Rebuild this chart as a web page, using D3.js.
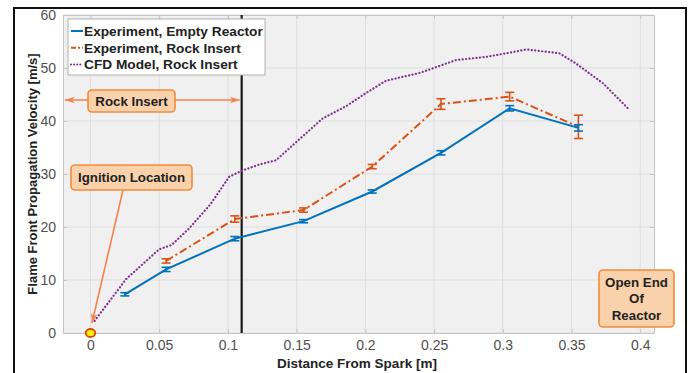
<!DOCTYPE html>
<html>
<head>
<meta charset="utf-8">
<script src="https://cdn.jsdelivr.net/npm/d3@7"></script>
<style>
  body { margin: 0; background: #fff; }
  text { font-family: "Liberation Sans", Arial, sans-serif; }
</style>
</head>
<body>
<svg id="chart" width="691" height="373"></svg>
<script>
// Data
var posX = [0.025, 0.055, 0.105, 0.155, 0.205, 0.255, 0.305, 0.355];

var emptyVel = [7.3, 12.0, 17.8, 21.1, 26.7, 34.0, 42.4, 38.7];
var emptyErr = [0.3, 0.4, 0.4, 0.3, 0.3, 0.4, 0.5, 0.6];

var rockX = [0.055, 0.105, 0.155, 0.205, 0.255, 0.305, 0.355];
var rockVel = [13.6, 21.5, 23.2, 31.4, 43.2, 44.6, 38.9];
var rockErr = [0.4, 0.6, 0.4, 0.4, 1.0, 0.8, 2.2];

var cfdX = [0.003, 0.026, 0.05, 0.059, 0.072, 0.087, 0.101, 0.11, 0.123, 0.135, 0.15, 0.169,
            0.186, 0.2, 0.215, 0.24, 0.266, 0.288, 0.305, 0.317, 0.341, 0.353, 0.373, 0.391];
var cfdVel = [2.3, 10.2, 15.8, 16.6, 19.8, 24.2, 29.5, 30.6, 31.8, 32.6, 36.1, 40.5,
              42.8, 45.2, 47.6, 49.1, 51.5, 52.1, 52.9, 53.5, 52.8, 50.9, 47.1, 42.4];

var xTicks = [0, 0.05, 0.1, 0.15, 0.2, 0.25, 0.3, 0.35, 0.4];
var yTicks = [0, 10, 20, 30, 40, 50, 60];
var legendLabels = ["Experiment, Empty Reactor", "Experiment, Rock Insert", "CFD Model, Rock Insert"];
var rockInsertEnd = 0.11;

var blue = "#0072BD", orange = "#D95319", purple = "#7E2F8E";
var noteFill = "#f9d2ab", noteStroke = "#f28a3e", arrowColor = "#f4824c";

var svg = d3.select("#chart");

// outer frame
svg.append("path")
  .attr("d", "M14,373 L14,8 L686,8 L686,373")
  .attr("fill", "none").attr("stroke", "#111").attr("stroke-width", 2);

var plotL = 63, plotR = 654, plotT = 15, plotB = 333;
var x = d3.scaleLinear().domain([-0.02, 0.41]).range([plotL, plotR]);
var y = d3.scaleLinear().domain([0, 60]).range([plotB, plotT]);

// plot background
svg.append("rect")
  .attr("x", plotL).attr("y", plotT)
  .attr("width", plotR - plotL).attr("height", plotB - plotT)
  .attr("fill", "#f0f0f0");

// grid
svg.append("g").selectAll("line").data(xTicks).join("line")
  .attr("x1", d => x(d)).attr("x2", d => x(d))
  .attr("y1", plotT).attr("y2", plotB)
  .attr("stroke", "#dedede").attr("stroke-width", 1);
svg.append("g").selectAll("line").data(yTicks).join("line")
  .attr("x1", plotL).attr("x2", plotR)
  .attr("y1", d => y(d)).attr("y2", d => y(d))
  .attr("stroke", "#dedede").attr("stroke-width", 1);

// axes
function styleAxis(g) {
  g.select(".domain").attr("stroke", "#c4c4c4");
  g.selectAll(".tick line").attr("stroke", "#c4c4c4");
  g.selectAll(".tick text").attr("fill", "#505050").attr("font-size", 14);
}
svg.append("g").attr("transform", "translate(0," + plotB + ")")
  .call(d3.axisBottom(x).tickValues(xTicks).tickFormat(d3.format("~g")).tickSize(-4).tickSizeOuter(0).tickPadding(7))
  .call(styleAxis);
svg.append("g").attr("transform", "translate(" + plotL + ",0)")
  .call(d3.axisLeft(y).tickValues(yTicks).tickSize(-4).tickSizeOuter(0).tickPadding(7))
  .call(styleAxis);
svg.append("g").attr("transform", "translate(0," + plotT + ")")
  .call(d3.axisTop(x).tickValues(xTicks).tickFormat("").tickSize(-4).tickSizeOuter(0))
  .call(styleAxis);
svg.append("g").attr("transform", "translate(" + plotR + ",0)")
  .call(d3.axisRight(y).tickValues(yTicks).tickFormat("").tickSize(-4).tickSizeOuter(0))
  .call(styleAxis);

// axis labels
svg.append("text")
  .attr("x", 357).attr("y", 368)
  .attr("text-anchor", "middle")
  .attr("font-size", 13.5).attr("font-weight", "bold").attr("fill", "#222")
  .text("Distance From Spark [m]");
svg.append("text")
  .attr("transform", "translate(37," + ((plotT + plotB) / 2) + ") rotate(-90)")
  .attr("text-anchor", "middle")
  .attr("font-size", 13).attr("font-weight", "bold").attr("fill", "#222")
  .text("Flame Front Propagation Velocity [m/s]");

// rock insert boundary
svg.append("line")
  .attr("x1", x(rockInsertEnd)).attr("x2", x(rockInsertEnd))
  .attr("y1", plotT).attr("y2", plotB)
  .attr("stroke", "#1a1a1a").attr("stroke-width", 2.2);

// series
var line = d3.line().x(d => x(d[0])).y(d => y(d[1]));

svg.append("path")
  .datum(d3.zip(cfdX, cfdVel))
  .attr("d", line)
  .attr("fill", "none").attr("stroke", purple).attr("stroke-width", 2.2)
  .attr("stroke-linecap", "round").attr("stroke-dasharray", "0.1,3.4");

function errorSeries(xs, vs, es, color, dash) {
  var pts = d3.zip(xs, vs, es);
  svg.append("path")
    .datum(pts)
    .attr("d", line)
    .attr("fill", "none").attr("stroke", color).attr("stroke-width", 2)
    .attr("stroke-dasharray", dash);
  var g = svg.append("g").attr("stroke", color).attr("stroke-width", 1.6);
  g.selectAll("line.v").data(pts).join("line").attr("class", "v")
    .attr("x1", d => x(d[0])).attr("x2", d => x(d[0]))
    .attr("y1", d => y(d[1] - d[2])).attr("y2", d => y(d[1] + d[2]));
  g.selectAll("line.lo").data(pts).join("line").attr("class", "lo")
    .attr("x1", d => x(d[0]) - 4.5).attr("x2", d => x(d[0]) + 4.5)
    .attr("y1", d => y(d[1] - d[2])).attr("y2", d => y(d[1] - d[2]));
  g.selectAll("line.hi").data(pts).join("line").attr("class", "hi")
    .attr("x1", d => x(d[0]) - 4.5).attr("x2", d => x(d[0]) + 4.5)
    .attr("y1", d => y(d[1] + d[2])).attr("y2", d => y(d[1] + d[2]));
}
errorSeries(rockX, rockVel, rockErr, orange, "8,3,2,3");
errorSeries(posX, emptyVel, emptyErr, blue, null);

// legend
var lg = svg.append("g").attr("transform", "translate(68,19)");
lg.append("rect").attr("width", 197).attr("height", 56)
  .attr("fill", "#fff").attr("stroke", "#b0b0b0").attr("stroke-width", 1);
var legendStyles = [
  { color: blue, dash: null, cap: "butt" },
  { color: orange, dash: "5,2,2,2", cap: "butt" },
  { color: purple, dash: "0.1,3", cap: "round" }
];
legendLabels.forEach(function (lab, i) {
  var cy = 12 + i * 16.7;
  lg.append("line").attr("x1", 3).attr("x2", 15).attr("y1", cy).attr("y2", cy)
    .attr("stroke", legendStyles[i].color).attr("stroke-width", 2)
    .attr("stroke-dasharray", legendStyles[i].dash)
    .attr("stroke-linecap", legendStyles[i].cap);
  lg.append("text").attr("x", 16).attr("y", cy + 5)
    .attr("font-size", 13.7).attr("font-weight", "bold").attr("fill", "#222")
    .text(lab);
});

// arrow markers
var defs = svg.append("defs");
defs.append("marker").attr("id", "arrowEnd")
  .attr("viewBox", "0 -5 12 10").attr("refX", 12).attr("refY", 0)
  .attr("markerUnits", "userSpaceOnUse")
  .attr("markerWidth", 14).attr("markerHeight", 8).attr("orient", "auto")
  .append("path").attr("d", "M0,-4 L12,0 L0,4 L3,0 Z").attr("fill", arrowColor);
defs.append("marker").attr("id", "arrowStart")
  .attr("viewBox", "0 -5 12 10").attr("refX", 12).attr("refY", 0)
  .attr("markerUnits", "userSpaceOnUse")
  .attr("markerWidth", 14).attr("markerHeight", 8).attr("orient", "auto-start-reverse")
  .append("path").attr("d", "M0,-4 L12,0 L0,4 L3,0 Z").attr("fill", arrowColor);

// Rock Insert annotation
svg.append("line")
  .attr("x1", 65).attr("x2", x(rockInsertEnd) - 2).attr("y1", 100).attr("y2", 100)
  .attr("stroke", arrowColor).attr("stroke-width", 1.6)
  .attr("marker-start", "url(#arrowStart)").attr("marker-end", "url(#arrowEnd)");

function noteBox(x0, y0, w, h, lines, lineH) {
  var g = svg.append("g");
  g.append("rect").attr("x", x0).attr("y", y0).attr("width", w).attr("height", h)
    .attr("rx", 4).attr("fill", noteFill).attr("stroke", noteStroke).attr("stroke-width", 1.6);
  var start = y0 + h / 2 - (lines.length - 1) * lineH / 2;
  lines.forEach(function (t, i) {
    g.append("text").attr("x", x0 + w / 2).attr("y", start + i * lineH + 4.8)
      .attr("text-anchor", "middle")
      .attr("font-size", 13.3).attr("font-weight", "bold").attr("fill", "#222")
      .text(t);
  });
}
noteBox(88, 90, 87, 22, ["Rock Insert"], 16);

// Ignition Location annotation
svg.append("line")
  .attr("x1", 123).attr("y1", 190).attr("x2", x(0) + 1.5).attr("y2", y(0) - 10)
  .attr("stroke", arrowColor).attr("stroke-width", 1.6)
  .attr("marker-end", "url(#arrowEnd)");
noteBox(71, 165, 121, 25, ["Ignition Location"], 16);

// ignition point
svg.append("ellipse")
  .attr("cx", x(0)).attr("cy", y(0)).attr("rx", 4.8).attr("ry", 4)
  .attr("fill", "#ffee00").attr("stroke", "#d9480f").attr("stroke-width", 1.8);

// Open End annotation
noteBox(599, 270, 75, 57, ["Open End", "Of", "Reactor"], 16.3);
</script>
</body>
</html>
